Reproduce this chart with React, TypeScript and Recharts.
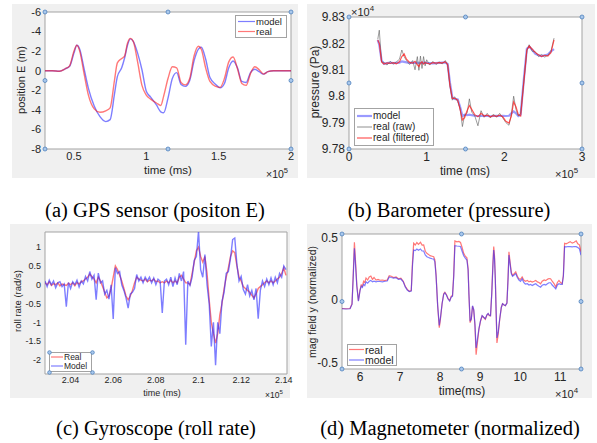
import React from 'react';
import { LineChart, Line, XAxis, YAxis, ReferenceArea, ReferenceDot } from 'recharts';

// ---- (a) GPS sensor, position E (time in 1e5 ms) ----
const aTime = [0.3, 0.35, 0.4, 0.44, 0.47, 0.5, 0.52, 0.54, 0.57, 0.6, 0.64, 0.68, 0.72, 0.75, 0.78, 0.8, 0.83, 0.85, 0.87, 0.89, 0.91, 0.94, 0.97, 1.0, 1.03, 1.07, 1.1, 1.12, 1.15, 1.18, 1.21, 1.24, 1.27, 1.3, 1.33, 1.36, 1.38, 1.41, 1.44, 1.48, 1.51, 1.54, 1.57, 1.6, 1.63, 1.66, 1.69, 1.72, 1.75, 1.78, 1.81, 1.84, 1.88, 1.92, 1.96, 2.0];
const aModel = [0, 0, -0.05, 0.2, 0.45, 1.8, 2.6, 2.2, 0.2, -1.8, -3.6, -4.7, -5.2, -5.0, -2.4, -0.6, 0.3, 1.3, 2.6, 3.25, 3.0, 1.8, 0.1, -2.1, -2.7, -3.5, -4.2, -4.3, -2.8, -0.8, -0.2, -1.4, -1.6, -1.0, 1.0, 2.2, 2.4, 1.2, -0.7, -1.4, -1.75, -1.3, 0.3, 1.0, 0.3, -1.1, -1.2, -0.2, 0.15, -0.1, -0.35, -0.1, 0, 0, 0, 0];
const aReal = [0, 0, -0.05, 0.2, 0.5, 2.0, 2.6, 2.0, -0.3, -2.5, -3.9, -4.25, -4.1, -3.8, -1.0, 0.8, 1.25, 1.5, 2.8, 3.3, 3.0, 0.9, -1.5, -2.5, -2.9, -3.3, -3.55, -2.6, -0.8, 0.4, 0.3, -1.2, -1.45, -0.8, 1.5, 2.5, 2.2, 0.3, -1.1, -1.6, -1.7, -0.8, 0.9, 1.4, 0.2, -1.3, -1.5, -0.3, 0.4, 0.1, -0.35, -0.1, 0, 0, 0, 0];
const aXTicks = [0.5, 1, 1.5, 2];
const aXLabels = ['0.5', '1', '1.5', '2'];
const aYTicks = [6, 4, 2, 0, -2, -4, -6, -8];
const aYLabels = ['-6', '-4', '-2', '0', '-2', '-4', '-6', '-8'];

// ---- (b) Barometer (time in 1e5 ms, pressure in 1e4 Pa) ----
const bTime = [0.37, 0.39, 0.42, 0.45, 0.49, 0.53, 0.57, 0.61, 0.65, 0.68, 0.71, 0.74, 0.78, 0.82, 0.85, 0.88, 0.9, 0.92, 0.94, 0.96, 0.98, 1.0, 1.04, 1.08, 1.12, 1.16, 1.2, 1.24, 1.27, 1.3, 1.33, 1.36, 1.4, 1.43, 1.46, 1.49, 1.52, 1.55, 1.58, 1.62, 1.66, 1.7, 1.74, 1.78, 1.82, 1.86, 1.9, 1.94, 1.98, 2.02, 2.06, 2.09, 2.12, 2.15, 2.18, 2.21, 2.25, 2.29, 2.32, 2.36, 2.4, 2.44, 2.48, 2.52, 2.56, 2.6, 2.64];
const bModel = [
  9.8212, 9.8195, 9.8135, 9.8123, 9.8125, 9.8127, 9.8125, 9.8126, 9.8127, 9.8132,
  9.813, 9.8128, 9.8126, 9.8127, 9.8126, 9.8127, 9.8126, 9.8125, 9.8127, 9.8126,
  9.8127, 9.8126, 9.8125, 9.8124, 9.8125, 9.8126, 9.8127, 9.8128, 9.8122, 9.805,
  9.7995, 9.799, 9.7988, 9.796, 9.7925, 9.793, 9.7928, 9.793, 9.7928, 9.7926,
  9.7925, 9.7925, 9.7926, 9.7925, 9.7924, 9.7925, 9.7926, 9.7925, 9.7926, 9.7925,
  9.7926, 9.7935, 9.7942, 9.7935, 9.7925, 9.793, 9.806, 9.818, 9.8188, 9.8175,
  9.816, 9.8155, 9.8152, 9.8155, 9.8158, 9.817, 9.8178,
];
const bRaw = [
  9.8215, 9.825, 9.813, 9.8128, 9.8118, 9.8132, 9.8122, 9.813, 9.814, 9.8175,
  9.815, 9.8135, 9.812, 9.8135, 9.81, 9.815, 9.8098, 9.8152, 9.8105, 9.815,
  9.8115, 9.8138, 9.8118, 9.8132, 9.812, 9.813, 9.8122, 9.8135, 9.8118, 9.804,
  9.7985, 9.7998, 9.798, 9.7955, 9.7885, 9.793, 9.7935, 9.799, 9.794, 9.7925,
  9.7888, 9.7945, 9.792, 9.7935, 9.7918, 9.7932, 9.792, 9.7935, 9.7918, 9.79,
  9.789, 9.793, 9.8, 9.795, 9.7925, 9.7935, 9.8055, 9.8172, 9.8195, 9.817,
  9.8168, 9.815, 9.8158, 9.8148, 9.8155, 9.817, 9.822,
];
const bFiltered = [
  9.8213, 9.82, 9.813, 9.8122, 9.8126, 9.8124, 9.8127, 9.8123, 9.813, 9.815,
  9.816, 9.814, 9.8128, 9.8125, 9.8132, 9.812, 9.8112, 9.8125, 9.813, 9.8122,
  9.8128, 9.8125, 9.8122, 9.8127, 9.8125, 9.8127, 9.8126, 9.813, 9.812, 9.804,
  9.7992, 9.7992, 9.7985, 9.795, 9.791, 9.792, 9.7945, 9.7965, 9.795, 9.793,
  9.7922, 9.7935, 9.7925, 9.7928, 9.7922, 9.7926, 9.7924, 9.7928, 9.7922, 9.7905,
  9.7898, 9.7925, 9.7978, 9.796, 9.793, 9.7925, 9.805, 9.8175, 9.819, 9.8178,
  9.8165, 9.8157, 9.815, 9.8155, 9.8152, 9.8165, 9.8213,
];
const bXTicks = [0, 1, 2, 3];
const bXLabels = ['0', '1', '2', '3'];
const bYTicks = [9.78, 9.79, 9.8, 9.81, 9.82, 9.83];
const bYLabels = ['9.78', '9.79', '9.8', '9.81', '9.82', '9.83'];

// ---- (c) Gyroscope roll rate (time in 1e5 ms) ----
const cTime = [
  2.028, 2.029, 2.03, 2.031, 2.032, 2.033, 2.034, 2.035, 2.036, 2.037,
  2.038, 2.039, 2.04, 2.041, 2.042, 2.043, 2.044, 2.045, 2.046, 2.047,
  2.048, 2.049, 2.05, 2.051, 2.052, 2.053, 2.054, 2.055, 2.056, 2.057,
  2.058, 2.059, 2.06, 2.061, 2.062, 2.063, 2.064, 2.065, 2.066, 2.067,
  2.068, 2.069, 2.07, 2.071, 2.072, 2.073, 2.074, 2.075, 2.076, 2.077,
  2.078, 2.079, 2.08, 2.081, 2.082, 2.083, 2.084, 2.085, 2.086, 2.087,
  2.088, 2.089, 2.09, 2.091, 2.092, 2.093, 2.094, 2.095, 2.096, 2.097,
  2.098, 2.099, 2.1, 2.101, 2.102, 2.103, 2.104, 2.105, 2.106, 2.107,
  2.108, 2.109, 2.11, 2.111, 2.112, 2.113, 2.114, 2.115, 2.116, 2.117,
  2.118, 2.119, 2.12, 2.121, 2.122, 2.123, 2.124, 2.125, 2.126, 2.127,
  2.128, 2.129, 2.13, 2.131, 2.132, 2.133, 2.134, 2.135, 2.136, 2.137,
  2.138, 2.139, 2.14, 2.141,
];
const cReal = [
  0.05, 0.0, 0.08, -0.02, 0.03, 0.0, 0.05, -0.03, 0.02, 0.0,
  -0.02, 0.04, 0.0, 0.05, -0.03, 0.06, 0.02, 0.08, 0.1, 0.15,
  0.2, 0.28, 0.22, 0.15, 0.05, 0.2, 0.1, -0.05, -0.2, -0.35,
  -0.3, -0.1, 0.2, 0.5, 0.4, 0.25, 0.1, -0.1, -0.3, -0.4,
  -0.3, -0.15, 0.05, 0.2, 0.15, 0.12, 0.1, 0.15, 0.08, 0.12,
  0.1, 0.15, 0.08, 0.1, 0.05, 0.08, 0.05, 0.1, 0.05, 0.12,
  0.05, 0.1, 0.05, 0.2, 0.25, 0.15, 0.05, 0.05, 0.0, 0.3,
  0.6, 0.9, 1.0, 0.75, 0.6, 0.75, 0.3, -0.4, -1.0, -1.3,
  -1.55, -1.3, -0.8, -0.5, -0.1, 0.2, 0.45, 0.75, 0.9, 0.85,
  0.5, 0.2, 0.1, -0.05, -0.1, -0.15, -0.2, -0.28, -0.35, -0.25,
  -0.1, -0.05, 0.0, 0.05, 0.1, 0.05, 0.1, 0.05, 0.1, 0.15,
  0.2, 0.3, 0.45, 0.25,
];
const cModel = [
  0.1, -0.05, 0.12, 0.0, 0.1, -0.08, 0.05, 0.08, -0.05, 0.02,
  -0.58, 0.06, -0.1, 0.08, 0.0, 0.12, -0.06, 0.1, 0.02, 0.22,
  0.1, 0.35, 0.15, 0.25, -0.4, 0.31, 0.05, 0.1, -0.25, -0.15,
  -0.38, 0.0, -0.91, 0.45, 0.3, 0.35, 0.0, -0.15, -0.35, -0.62,
  -0.25, -0.2, -0.1, 0.27, 0.1, 0.2, 0.05, 0.2, 0.1, 0.2,
  0.05, 0.18, 0.0, 0.15, 0.1, -0.75, 0.1, 0.15, 0.0, 0.2,
  -0.05, 0.18, 0.0, 0.3, 0.1, 0.35, -1.59, 0.1, -0.02, 0.2,
  0.65, 0.75, 1.42, 0.4, 0.2, 0.8, 0.0, -0.5, -1.64, -1.0,
  -2.14, -1.0, -1.3, -0.45, -0.2, 0.3, 0.35, 0.7, 1.2, 1.24,
  0.55, 0.1, 0.22, -0.13, -0.25, 0.0, -0.3, -0.15, -0.4, -0.1,
  -0.9, -0.15, 0.1, -0.05, 0.15, 0.0, 0.18, 0.0, 0.2, 0.05,
  0.3, 0.2, 0.5, 0.4,
];
const cXTicks = [2.04, 2.06, 2.08, 2.1, 2.12, 2.14];
const cXLabels = ['2.04', '2.06', '2.08', '2.1', '2.12', '2.14'];
const cYTicks = [-2, -1.5, -1, -0.5, 0, 0.5, 1];
const cYLabels = ['-2', '-1.5', '-1', '-0.5', '0', '0.5', '1'];

// ---- (d) Magnetometer y (time in 1e4 ms) ----
const dTime = [
  5.55, 5.65, 5.75, 5.8, 5.83, 5.86, 5.89, 5.92, 5.96, 6.0,
  6.03, 6.06, 6.09, 6.12, 6.15, 6.19, 6.23, 6.27, 6.31, 6.35,
  6.4, 6.45, 6.5, 6.56, 6.62, 6.68, 6.73, 6.78, 6.84, 6.9,
  6.96, 7.02, 7.08, 7.13, 7.18, 7.23, 7.28, 7.31, 7.34, 7.38,
  7.42, 7.46, 7.51, 7.55, 7.59, 7.63, 7.67, 7.71, 7.75, 7.8,
  7.84, 7.87, 7.9, 7.94, 7.98, 8.01, 8.05, 8.09, 8.12, 8.16,
  8.2, 8.24, 8.28, 8.31, 8.34, 8.37, 8.42, 8.47, 8.51, 8.55,
  8.59, 8.63, 8.67, 8.7, 8.72, 8.75, 8.78, 8.81, 8.84, 8.87,
  8.9, 8.93, 8.97, 9.01, 9.05, 9.09, 9.13, 9.17, 9.2, 9.23,
  9.26, 9.29, 9.32, 9.34, 9.36, 9.38, 9.4, 9.42, 9.45, 9.49,
  9.53, 9.56, 9.6, 9.63, 9.67, 9.7, 9.72, 9.75, 9.78, 9.81,
  9.85, 9.89, 9.93, 9.97, 10.01, 10.05, 10.09, 10.13, 10.18, 10.22,
  10.26, 10.3, 10.35, 10.39, 10.43, 10.47, 10.51, 10.55, 10.6, 10.64,
  10.68, 10.72, 10.76, 10.8, 10.85, 10.89, 10.93, 10.97, 11.01, 11.05,
  11.08, 11.11, 11.15, 11.2, 11.25, 11.3, 11.35, 11.4, 11.44, 11.48,
  11.52,
];
const dReal = [
  -0.068, -0.07, -0.068, -0.03, 0.2, 0.462, 0.3, 0.12, -0.005, 0.08,
  0.12, 0.11, 0.15, 0.14, 0.176, 0.16, 0.185, 0.192, 0.165, 0.18,
  0.16, 0.165, 0.158, 0.16, 0.155, 0.16, 0.195, 0.19, 0.18, 0.185,
  0.17, 0.175, 0.15, 0.11, 0.085, 0.07, 0.075, 0.3, 0.454, 0.44,
  0.46, 0.445, 0.462, 0.44, 0.441, 0.39, 0.373, 0.365, 0.355, 0.35,
  0.346, 0.32, 0.2, -0.05, -0.222, -0.15, -0.03, 0.05, 0.062, 0.041,
  0.01, -0.005, 0.03, 0.035, 0.2, 0.473, 0.465, 0.468, 0.46, 0.42,
  0.373, 0.35, 0.338, 0.25, 0.05, -0.181, -0.154, -0.05, -0.08, -0.2,
  -0.438, -0.35, -0.235, -0.17, -0.127, -0.14, -0.154, -0.12, -0.11, -0.125,
  -0.127, 0.05, 0.3, 0.427, 0.35, 0.17, -0.1, -0.343, -0.28, -0.154,
  -0.06, -0.03, -0.04, -0.046, -0.024, 0.2, 0.386, 0.3, 0.22, 0.197,
  0.21, 0.224, 0.19, 0.17, 0.165, 0.184, 0.16, 0.15, 0.157, 0.145,
  0.15, 0.143, 0.15, 0.157, 0.145, 0.14, 0.13, 0.15, 0.16, 0.155,
  0.165, 0.172, 0.17, 0.15, 0.13, 0.103, 0.14, 0.157, 0.14, 0.13,
  0.2, 0.454, 0.45, 0.458, 0.467, 0.455, 0.462, 0.473, 0.45, 0.441,
  0.386,
];
const dModel = [
  -0.07, -0.072, -0.07, -0.035, 0.18, 0.414, 0.27, 0.11, -0.01, 0.075,
  0.11, 0.1, 0.125, 0.115, 0.145, 0.135, 0.15, 0.157, 0.145, 0.15,
  0.145, 0.15, 0.148, 0.145, 0.15, 0.152, 0.185, 0.18, 0.175, 0.178,
  0.165, 0.168, 0.145, 0.105, 0.08, 0.068, 0.072, 0.27, 0.4, 0.395,
  0.408, 0.398, 0.408, 0.392, 0.392, 0.36, 0.346, 0.34, 0.335, 0.33,
  0.327, 0.305, 0.19, -0.045, -0.203, -0.14, -0.03, 0.045, 0.058, 0.038,
  0.008, -0.008, 0.025, 0.03, 0.18, 0.435, 0.432, 0.43, 0.428, 0.39,
  0.354, 0.335, 0.32, 0.24, 0.05, -0.17, -0.15, -0.046, -0.075, -0.19,
  -0.384, -0.32, -0.23, -0.165, -0.125, -0.138, -0.15, -0.118, -0.108, -0.122,
  -0.125, 0.045, 0.27, 0.4, 0.33, 0.16, -0.09, -0.303, -0.26, -0.15,
  -0.058, -0.03, -0.04, -0.045, -0.024, 0.18, 0.359, 0.285, 0.21, 0.19,
  0.2, 0.211, 0.18, 0.16, 0.15, 0.17, 0.14, 0.128, 0.13, 0.12,
  0.125, 0.116, 0.125, 0.13, 0.118, 0.11, 0.103, 0.118, 0.125, 0.12,
  0.13, 0.138, 0.138, 0.12, 0.103, 0.089, 0.12, 0.13, 0.125, 0.125,
  0.19, 0.427, 0.425, 0.428, 0.427, 0.425, 0.428, 0.427, 0.42, 0.41,
  0.359,
];
const dXTicks = [6, 7, 8, 9, 10, 11];
const dXLabels = ['6', '7', '8', '9', '10', '11'];
const dYTicks = [-0.5, 0, 0.5];
const dYLabels = ['-0.5', '0', '0.5'];

const INK = '#262626';
const BOX = '#a3a3a3';
const FIG_BG = '#f0f0f0';
const SANS = '"Liberation Sans", Arial, Helvetica, sans-serif';

const BLUE = 'rgba(40,40,255,0.6)';
const RED = 'rgba(255,30,30,0.6)';

type Series = { key: string; color: string; width: number; curve?: 'linear' | 'monotone' };

type PlotProps = {
  w: number;
  h: number;
  margin: { top: number; right: number; bottom: number; left: number };
  yAxisW: number;
  xAxisH: number;
  fs: number;
  data: Record<string, number>[];
  xDomain: [number, number];
  yDomain: [number, number];
  xTicks: number[];
  xLabels: string[];
  yTicks: number[];
  yLabels: string[];
  series: Series[];
  handles?: boolean;
};

const lookup = (ticks: number[], labels: string[]) => (v: number) => {
  const i = ticks.indexOf(v);
  return i >= 0 ? labels[i] : String(v);
};

function handleDots(xd: [number, number], yd: [number, number]) {
  const xs = [xd[0], (xd[0] + xd[1]) / 2, xd[1]];
  const ys = [yd[0], (yd[0] + yd[1]) / 2, yd[1]];
  const out: React.ReactElement[] = [];
  ys.forEach((y, j) =>
    xs.forEach((x, i) => {
      if (i === 1 && j === 1) return;
      out.push(
        <ReferenceDot
          key={`h${i}${j}`}
          x={x}
          y={y}
          r={2}
          fill="#a9c8ec"
          stroke="#4f81bd"
          strokeWidth={0.8}
          ifOverflow="visible"
        />,
      );
    }),
  );
  return out;
}

function Plot(p: PlotProps) {
  return (
    <LineChart width={p.w} height={p.h} data={p.data} margin={p.margin}>
      <XAxis
        dataKey="t"
        type="number"
        domain={p.xDomain}
        allowDataOverflow
        ticks={p.xTicks}
        interval={0}
        tickFormatter={lookup(p.xTicks, p.xLabels)}
        axisLine={false}
        tickLine={false}
        tickSize={0}
        tickMargin={3}
        height={p.xAxisH}
        tick={{ fontSize: p.fs, fill: INK }}
      />
      <YAxis
        type="number"
        domain={p.yDomain}
        allowDataOverflow
        ticks={p.yTicks}
        interval={0}
        tickFormatter={lookup(p.yTicks, p.yLabels)}
        axisLine={false}
        tickLine={false}
        tickSize={0}
        tickMargin={4}
        width={p.yAxisW}
        tick={{ fontSize: p.fs, fill: INK }}
      />
      <ReferenceArea
        x1={p.xDomain[0]}
        x2={p.xDomain[1]}
        y1={p.yDomain[0]}
        y2={p.yDomain[1]}
        fill="#ffffff"
        fillOpacity={1}
        stroke={BOX}
        strokeWidth={1}
        ifOverflow="visible"
      />
      {p.series.map((s) => (
        <Line
          key={s.key}
          dataKey={s.key}
          type={s.curve ?? 'linear'}
          stroke={s.color}
          strokeWidth={s.width}
          dot={false}
          activeDot={false}
          isAnimationActive={false}
        />
      ))}
      {p.handles ? handleDots(p.xDomain, p.yDomain) : null}
    </LineChart>
  );
}

function Txt({
  x,
  y,
  fs,
  children,
  rotate = false,
  start = false,
  family = SANS,
  lh = 1,
}: {
  x: number;
  y: number;
  fs: number;
  children: React.ReactNode;
  rotate?: boolean;
  start?: boolean;
  family?: string;
  lh?: number;
}) {
  const t = start ? 'translate(0,-50%)' : 'translate(-50%,-50%)';
  return (
    <div
      style={{
        position: 'absolute',
        left: x,
        top: y,
        transform: rotate ? `${t} rotate(-90deg)` : t,
        fontSize: fs,
        fontFamily: family,
        color: INK,
        whiteSpace: 'nowrap',
        lineHeight: lh,
      }}
    >
      {children}
    </div>
  );
}

function Exp({ x, y, fs, p }: { x: number; y: number; fs: number; p: string }) {
  return (
    <Txt x={x} y={y} fs={fs} start>
      ×10
      <span style={{ fontSize: fs * 0.72, position: 'relative', top: -fs * 0.45 }}>{p}</span>
    </Txt>
  );
}

type LegendRow = { label: string; color: string; width: number; y: number };

function LegendBox({
  x,
  y,
  w,
  h,
  fs,
  rows,
  l0,
  l1,
  tx,
  corners,
}: {
  x: number;
  y: number;
  w: number;
  h: number;
  fs: number;
  rows: LegendRow[];
  l0: number;
  l1: number;
  tx: number;
  corners?: boolean;
}) {
  return (
    <div style={{ position: 'absolute', left: x, top: y, width: w, height: h }}>
      <svg width={w + 6} height={h + 6} style={{ position: 'absolute', left: -3, top: -3, overflow: 'visible' }}>
        <rect x={3.5} y={3.5} width={w - 1} height={h - 1} fill="#fff" stroke={BOX} strokeWidth={1} />
        {rows.map((r) => (
          <line key={r.label} x1={3 + l0} x2={3 + l1} y1={3 + r.y} y2={3 + r.y} stroke={r.color} strokeWidth={r.width} />
        ))}
        {corners
          ? [
              [0, 0],
              [w, 0],
              [0, h],
              [w, h],
            ].map(([cx, cy]) => (
              <circle key={`${cx}-${cy}`} cx={3.5 + cx} cy={3.5 + cy} r={1.8} fill="#a9c8ec" stroke="#4f81bd" strokeWidth={0.8} />
            ))
          : null}
      </svg>
      {rows.map((r) => (
        <Txt key={r.label} x={tx} y={r.y} fs={fs} start lh={0.8}>
          {r.label}
        </Txt>
      ))}
    </div>
  );
}

const aData = aTime.map((t, i) => ({ t, model: aModel[i], real: aReal[i] }));
const bData = bTime.map((t, i) => ({ t, model: bModel[i], raw: bRaw[i], filtered: bFiltered[i] }));
const cData = cTime.map((t, i) => ({ t, real: cReal[i], model: cModel[i] }));
const dData = dTime.map((t, i) => ({ t, real: dReal[i], model: dModel[i] }));

const CAP = '"Liberation Serif", "Times New Roman", serif';

export default function App() {
  return (
    <div
      style={{
        position: 'absolute',
        left: 0,
        top: 0,
        width: 597,
        height: 443,
        background: '#fff',
        fontFamily: SANS,
        overflow: 'hidden',
      }}
    >
      {/* (a) */}
      <div style={{ position: 'absolute', left: 12, top: 4, width: 286, height: 174, background: FIG_BG }}>
        <Plot
          w={286}
          h={174}
          margin={{ top: 8, right: 7, bottom: 0, left: 0 }}
          yAxisW={33}
          xAxisH={29}
          fs={11}
          data={aData}
          xDomain={[0.3, 2.0]}
          yDomain={[-8, 6]}
          xTicks={aXTicks}
          xLabels={aXLabels}
          yTicks={aYTicks}
          yLabels={aYLabels}
          series={[
            { key: 'model', color: BLUE, width: 1.4, curve: 'monotone' },
            { key: 'real', color: RED, width: 1.4, curve: 'monotone' },
          ]}
          handles
        />
      </div>
      <Txt x={21} y={80} fs={11} rotate>position E (m)</Txt>
      <Txt x={168} y={171} fs={11.5}>time (ms)</Txt>
      <Exp x={266} y={174} fs={10.5} p="5" />
      <LegendBox
        x={235}
        y={15}
        w={52}
        h={23}
        fs={9.5}
        l0={3}
        l1={20}
        tx={21}
        rows={[
          { label: 'model', color: BLUE, width: 1.2, y: 6.5 },
          { label: 'real', color: RED, width: 1.2, y: 16.5 },
        ]}
      />

      {/* (b) */}
      <div style={{ position: 'absolute', left: 307, top: 4, width: 288, height: 174, background: FIG_BG }}>
        <Plot
          w={288}
          h={174}
          margin={{ top: 13, right: 13, bottom: 0, left: 0 }}
          yAxisW={42}
          xAxisH={29}
          fs={12}
          data={bData}
          xDomain={[0, 3]}
          yDomain={[9.78, 9.83]}
          xTicks={bXTicks}
          xLabels={bXLabels}
          yTicks={bYTicks}
          yLabels={bYLabels}
          series={[
            { key: 'model', color: 'rgba(120,120,255,0.75)', width: 2.2 },
            { key: 'raw', color: 'rgba(90,90,90,0.75)', width: 0.8 },
            { key: 'filtered', color: 'rgba(255,30,30,0.75)', width: 1.2 },
          ]}
          handles
        />
      </div>
      <Txt x={315} y={82} fs={12} rotate>pressure (Pa)</Txt>
      <Txt x={465} y={171} fs={12}>time (ms)</Txt>
      <Exp x={351} y={12} fs={11} p="4" />
      <Exp x={555} y={174} fs={11} p="5" />
      <LegendBox
        x={354}
        y={108}
        w={80}
        h={38}
        fs={10}
        l0={3}
        l1={18}
        tx={19}
        rows={[
          { label: 'model', color: 'rgba(120,120,255,0.75)', width: 2.2, y: 8 },
          { label: 'real (raw)', color: 'rgba(90,90,90,0.75)', width: 0.9, y: 19 },
          { label: 'real (filtered)', color: 'rgba(255,30,30,0.75)', width: 1.2, y: 30 },
        ]}
      />

      {/* (c) */}
      <div style={{ position: 'absolute', left: 10, top: 224, width: 280, height: 174, background: FIG_BG }}>
        <Plot
          w={290}
          h={174}
          margin={{ top: 8, right: 13, bottom: 0, left: 0 }}
          yAxisW={35}
          xAxisH={24}
          fs={9}
          data={cData}
          xDomain={[2.028, 2.1415]}
          yDomain={[-2.37, 1.4]}
          xTicks={cXTicks}
          xLabels={cXLabels}
          yTicks={cYTicks}
          yLabels={cYLabels}
          series={[
            { key: 'real', color: RED, width: 1.4 },
            { key: 'model', color: BLUE, width: 1.4 },
          ]}
        />
      </div>
      <Txt x={18} y={301} fs={9.5} rotate>roll rate (rad/s)</Txt>
      <Txt x={162} y={393} fs={9}>time (ms)</Txt>
      <Exp x={265} y={395} fs={8.5} p="5" />
      <LegendBox
        x={49}
        y={352}
        w={43}
        h={20}
        fs={8.5}
        l0={2}
        l1={14}
        tx={15}
        corners
        rows={[
          { label: 'Real', color: RED, width: 1.2, y: 5 },
          { label: 'Model', color: BLUE, width: 1.2, y: 14 },
        ]}
      />

      {/* (d) */}
      <div style={{ position: 'absolute', left: 307, top: 224, width: 285, height: 174, background: FIG_BG }}>
        <Plot
          w={285}
          h={174}
          margin={{ top: 10, right: 11, bottom: 0, left: 0 }}
          yAxisW={35}
          xAxisH={29}
          fs={12}
          data={dData}
          xDomain={[5.55, 11.52]}
          yDomain={[-0.552, 0.528]}
          xTicks={dXTicks}
          xLabels={dXLabels}
          yTicks={dYTicks}
          yLabels={dYLabels}
          series={[
            { key: 'real', color: RED, width: 1.2 },
            { key: 'model', color: BLUE, width: 1.2 },
          ]}
          handles
        />
      </div>
      <Txt x={312} y={302} fs={10.5} rotate>mag field y (normalized)</Txt>
      <Txt x={462} y={391} fs={12}>time(ms)</Txt>
      <Exp x={555} y={394} fs={11} p="4" />
      <LegendBox
        x={347}
        y={344}
        w={50}
        h={22}
        fs={10.5}
        l0={2}
        l1={17}
        tx={18}
        rows={[
          { label: 'real', color: RED, width: 1.2, y: 5.5 },
          { label: 'model', color: BLUE, width: 1.2, y: 16 },
        ]}
      />

      {/* captions */}
      <Txt x={155} y={210} fs={20.5} family={CAP}>
        <span style={{ color: '#000' }}>(a) GPS sensor (positon E)</span>
      </Txt>
      <Txt x={449} y={210} fs={20.5} family={CAP}>
        <span style={{ color: '#000' }}>(b) Barometer (pressure)</span>
      </Txt>
      <Txt x={156} y={428} fs={20.5} family={CAP}>
        <span style={{ color: '#000' }}>(c) Gyroscope (roll rate)</span>
      </Txt>
      <Txt x={450} y={428} fs={20.5} family={CAP}>
        <span style={{ color: '#000' }}>(d) Magnetometer (normalized)</span>
      </Txt>
    </div>
  );
}
